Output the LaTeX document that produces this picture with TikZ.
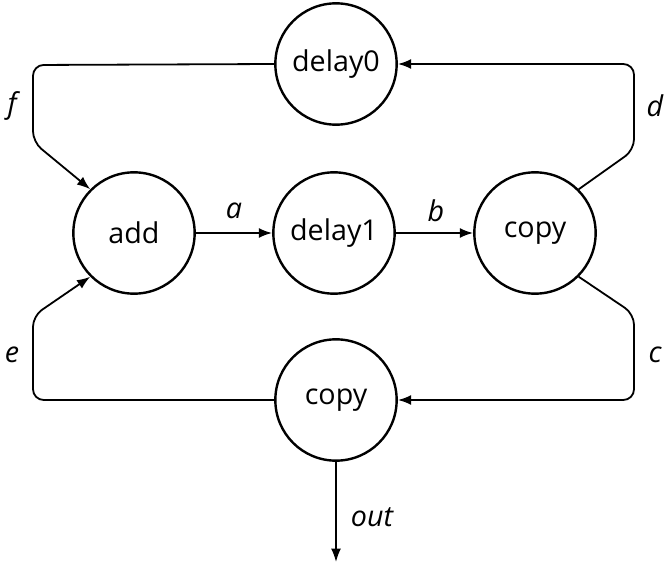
\documentclass[tikz,border=0pt]{standalone}
\usepackage{fontspec}
\setsansfont{Open Sans}
\usetikzlibrary{arrows.meta}
\tikzset{
  x=0.75pt, y=-0.75pt,
  proc/.style={circle, draw, line width=1.8pt, minimum size=91pt, inner sep=0pt,
    font=\sffamily\fontsize{21.5}{26}\selectfont},
  wire/.style={line width=1.35pt, rounded corners=8pt},
  flow/.style={wire, -{Latex[length=10pt,width=7.5pt]}},
  lbl/.style={font=\sffamily\itshape\fontsize{21.5}{26}\selectfont, inner sep=0pt}
}
\begin{document}
\begin{tikzpicture}
\useasboundingbox (0,0) rectangle (669,567);
% processes
\node[proc] (add)    at (134,233) {add};
\node[proc] (delay1) at (334,233) {delay1};
\node[proc] (copyR)  at (535,233) {copy};
\node[proc] (delay0) at (336,64)  {delay0};
\node[proc] (copyB)  at (336,400) {copy};
% bend points of the feedback loops
\coordinate (fTop) at (33,65);
\coordinate (fBot) at (33,142);
\coordinate (eTop) at (33,316);
\coordinate (eBot) at (33,400);
\coordinate (dTop) at (634,64);
\coordinate (dBot) at (634,150);
\coordinate (cTop) at (634,314);
\coordinate (cBot) at (634,400);
\coordinate (sink) at (336,562);
% forward chain
\draw[flow] (add) -- (delay1);
\draw[flow] (delay1) -- (copyR);
% loops
\draw[flow] (delay0.west) -- (fTop) -- (fBot) -- (add.135);
\draw[flow] (copyR.45) -- (dBot) -- (dTop) -- (delay0.east);
\draw[flow] (copyR.-45) -- (cTop) -- (cBot) -- (copyB.east);
\draw[flow] (copyB.west) -- (eBot) -- (eTop) -- (add.-135);
\draw[flow] (copyB) -- (sink);
% edge labels
\node[lbl] at (234,211) {a};
\node[lbl] at (436,211) {b};
\node[lbl] at (655,355) {c};
\node[lbl] at (655,106) {d};
\node[lbl] at (12,355) {e};
\node[lbl] at (12,106) {f};
\node[lbl] at (372,517) {out};
\end{tikzpicture}
\end{document}
